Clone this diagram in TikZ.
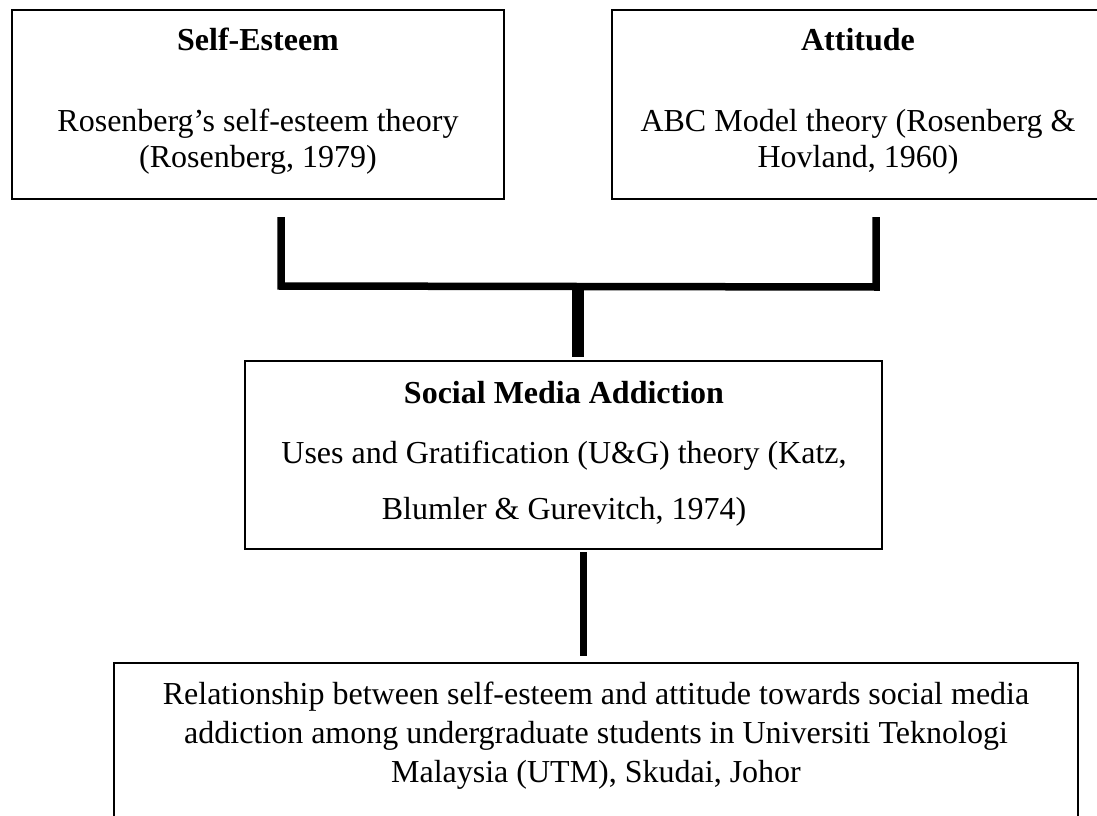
\documentclass[tikz,border=0pt]{standalone}
\usepackage{fontspec}
\setmainfont{Liberation Serif}
\begin{document}
\begin{tikzpicture}[x=1pt,y=-1pt,
  box/.style={draw, line width=1.3pt, inner sep=0pt, outer sep=0pt, anchor=north west},
  txt/.style={font=\fontsize{32}{37}\selectfont, inner sep=0pt, anchor=base},
  ttl/.style={font=\fontsize{32}{37}\selectfont\bfseries, inner sep=0pt, anchor=base},
  bar/.style={line width=#1, line cap=butt}]
\useasboundingbox (0,0) rectangle (1097,816);
% boxes
\node[box, minimum width=492pt, minimum height=189pt] (se) at (12,10) {};
\node[box, minimum width=488pt, minimum height=189pt] (at) at (612,10) {};
\node[box, minimum width=637pt, minimum height=188pt] (sm) at (245,361) {};
\node[box, minimum width=964pt, minimum height=160pt] (rl) at (114,663) {};
% texts
\node[ttl] (seT) at (258,51) {Self-Esteem};
\node[txt] (seA) at (258,131) {Rosenberg’s self-esteem theory};
\node[txt] (seB) at (258,167) {(Rosenberg, 1979)};
\node[ttl] (atT) at (858,51) {Attitude};
\node[txt] (atA) at (858,131) {ABC Model theory (Rosenberg \&};
\node[txt] (atB) at (858,167) {Hovland, 1960)};
\node[ttl] (smT) at (564,403) {Social Media Addiction};
\node[txt] (smA) at (564,463) {Uses and Gratification (U\&G) theory (Katz,};
\node[txt] (smB) at (564,519) {Blumler \& Gurevitch, 1974)};
\node[txt] (rlA) at (596,704) {Relationship between self-esteem and attitude towards social media};
\node[txt] (rlB) at (596,743) {addiction among undergraduate students in Universiti Teknologi};
\node[txt] (rlC) at (596,782) {Malaysia (UTM), Skudai, Johor};
% connectors
\coordinate (l1) at (281,217);
\coordinate (l2) at (281,286);
\coordinate (r1) at (876,217);
\coordinate (r2) at (876,287);
\coordinate (m1) at (578,283);
\coordinate (m2) at (578,357);
\coordinate (b1) at (583,552);
\coordinate (b2) at (583,656);
\draw[bar=7.5pt, line join=miter] (l1) -- (l2) -- (r2) -- (r1);
\draw[bar=12pt] (m1) -- (m2);
\draw[bar=7pt] (b1) -- (b2);
\end{tikzpicture}
\end{document}
